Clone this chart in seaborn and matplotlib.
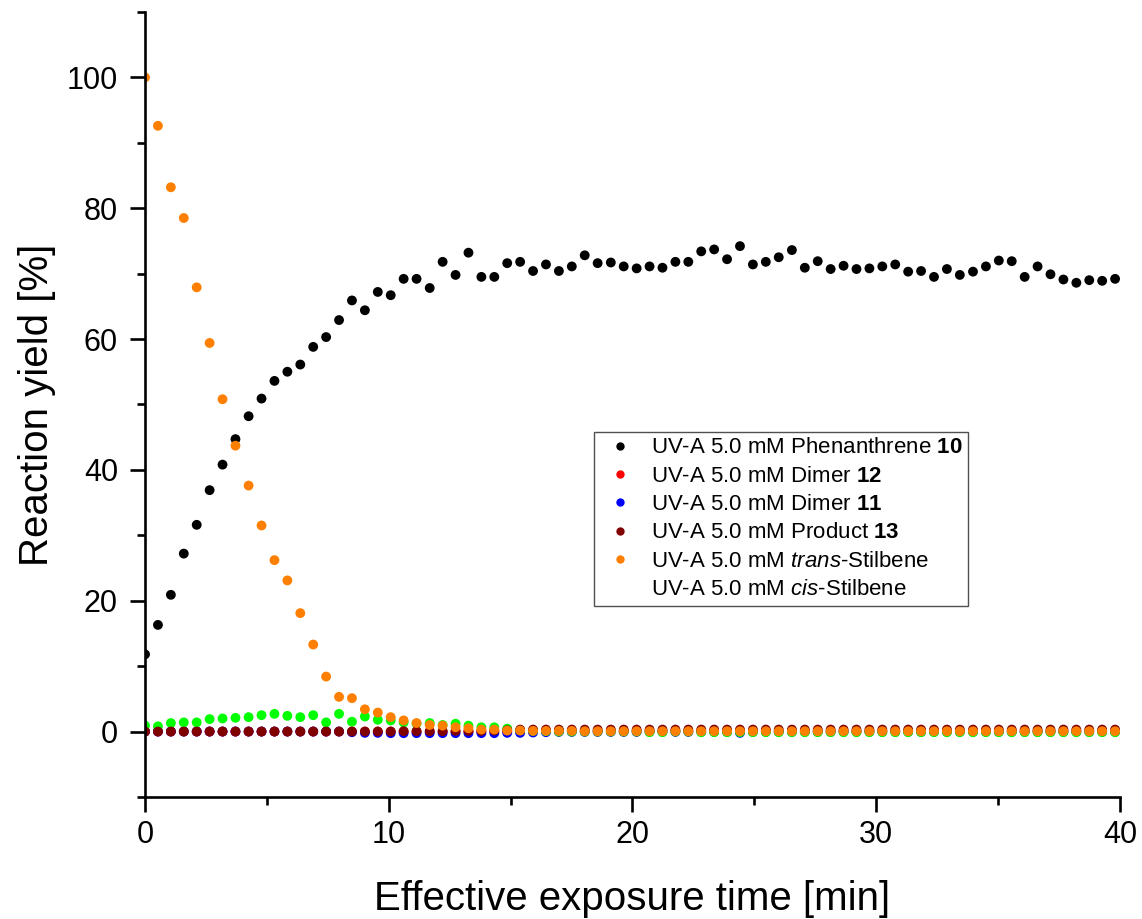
import numpy as np
import pandas as pd
import matplotlib
matplotlib.use("Agg")
import matplotlib.pyplot as plt
from matplotlib.lines import Line2D
from matplotlib.ticker import MultipleLocator
import seaborn as sns

# Effective exposure time [min]
time = [0.00, 0.53, 1.06, 1.59, 2.12, 2.65, 3.18, 3.71, 4.25, 4.78,
        5.31, 5.84, 6.37, 6.90, 7.43, 7.96, 8.49, 9.02, 9.55, 10.08,
        10.61, 11.14, 11.68, 12.21, 12.74, 13.27, 13.80, 14.33, 14.86, 15.39,
        15.92, 16.45, 16.98, 17.51, 18.04, 18.57, 19.11, 19.64, 20.17, 20.70,
        21.23, 21.76, 22.29, 22.82, 23.35, 23.88, 24.41, 24.94, 25.47, 26.00,
        26.54, 27.07, 27.60, 28.13, 28.66, 29.19, 29.72, 30.25, 30.78, 31.31,
        31.84, 32.37, 32.90, 33.43, 33.97, 34.50, 35.03, 35.56, 36.09, 36.62,
        37.15, 37.68, 38.21, 38.74, 39.27, 39.80]

# Reaction yields [%]
phenanthrene_10 = [11.8, 16.3, 20.9, 27.2, 31.6, 36.9, 40.8, 44.7, 48.2, 50.9,
                   53.6, 55.0, 56.1, 58.8, 60.3, 62.9, 65.9, 64.4, 67.2, 66.7,
                   69.2, 69.2, 67.8, 71.8, 69.8, 73.2, 69.5, 69.5, 71.6, 71.8,
                   70.4, 71.4, 70.4, 71.1, 72.8, 71.6, 71.7, 71.1, 70.8, 71.1,
                   70.9, 71.8, 71.8, 73.4, 73.7, 72.2, 74.2, 71.4, 71.8, 72.5,
                   73.6, 70.9, 71.9, 70.7, 71.2, 70.7, 70.8, 71.1, 71.4, 70.3,
                   70.4, 69.5, 70.7, 69.8, 70.3, 71.1, 72.0, 71.9, 69.5, 71.1,
                   69.9, 69.1, 68.6, 69.0, 68.9, 69.2]

dimer_12 = [0.0, 0.0, 0.0, 0.0, 0.0, 0.0, 0.0, 0.0, 0.0, 0.0,
            0.0, 0.0, 0.0, 0.0, 0.0, 0.0, 0.0, 0.0, 0.0, 0.0,
            0.0, 0.0, 0.0, 0.0, 0.0, 0.0, 0.0, 0.0, 0.0, 0.0,
            0.0, 0.0, 0.0, 0.0, 0.0, 0.0, 0.0, 0.0, 0.0, 0.0,
            0.0, 0.0, 0.0, 0.0, 0.0, 0.0, 0.0, 0.0, 0.0, 0.0,
            0.0, 0.0, 0.0, 0.0, 0.0, 0.0, 0.0, 0.0, 0.0, 0.0,
            0.0, 0.0, 0.0, 0.0, 0.0, 0.0, 0.0, 0.0, 0.0, 0.0,
            0.0, 0.0, 0.0, 0.0, 0.0, 0.0]

dimer_11 = [0.0, 0.0, 0.0, 0.0, 0.0, 0.0, 0.0, 0.0, 0.0, 0.0,
            0.0, 0.0, 0.0, 0.0, 0.0, 0.0, -0.1, -0.2, -0.2, -0.25,
            -0.25, -0.25, -0.25, -0.25, -0.25, -0.25, -0.25, -0.25, -0.2, -0.2,
            -0.15, -0.1, -0.05, -0.05, -0.05, -0.05, -0.05, -0.05, -0.05, -0.05,
            -0.05, -0.05, -0.05, -0.05, -0.05, -0.05, -0.2, -0.05, -0.05, -0.05,
            -0.05, -0.05, -0.05, -0.05, -0.05, -0.05, -0.05, -0.05, -0.05, -0.05,
            -0.05, -0.05, -0.05, -0.05, -0.05, -0.05, -0.05, -0.05, -0.05, -0.05,
            -0.05, -0.05, -0.05, -0.05, -0.05, -0.05]

product_13 = [0.0, 0.0, 0.0, 0.0, 0.0, 0.0, 0.0, 0.0, 0.0, 0.0,
              0.0, 0.0, 0.0, 0.0, 0.0, 0.0, 0.0, 0.0, 0.0, 0.0,
              0.05, 0.05, 0.05, 0.05, 0.1, 0.1, 0.1, 0.15, 0.2, 0.3,
              0.3, 0.3, 0.3, 0.3, 0.3, 0.3, 0.3, 0.3, 0.3, 0.3,
              0.3, 0.3, 0.3, 0.3, 0.3, 0.3, 0.3, 0.3, 0.3, 0.3,
              0.3, 0.3, 0.3, 0.3, 0.3, 0.3, 0.3, 0.3, 0.3, 0.3,
              0.3, 0.3, 0.3, 0.3, 0.3, 0.3, 0.3, 0.3, 0.3, 0.3,
              0.3, 0.3, 0.3, 0.3, 0.3, 0.3]

trans_stilbene = [100.0, 92.6, 83.2, 78.5, 67.9, 59.4, 50.8, 43.7, 37.6, 31.5,
                  26.2, 23.1, 18.1, 13.3, 8.4, 5.3, 5.1, 3.4, 2.9, 2.2,
                  1.7, 1.3, 1.0, 0.9, 0.65, 0.5, 0.3, 0.3, 0.15, 0.15,
                  0.1, 0.1, 0.1, 0.1, 0.05, 0.05, 0.05, 0.05, 0.05, 0.05,
                  0.05, 0.05, 0.05, 0.05, 0.05, 0.05, 0.05, 0.05, 0.05, 0.05,
                  0.05, 0.05, 0.05, 0.05, 0.05, 0.05, 0.05, 0.05, 0.05, 0.05,
                  0.05, 0.05, 0.05, 0.05, 0.05, 0.05, 0.05, 0.05, 0.05, 0.05,
                  0.05, 0.05, 0.05, 0.05, 0.05, 0.05]

cis_stilbene = [0.9, 0.8, 1.3, 1.4, 1.4, 1.9, 2.0, 2.1, 2.2, 2.5,
                2.7, 2.4, 2.2, 2.5, 1.4, 2.7, 1.5, 2.3, 1.8, 1.7,
                1.4, 1.2, 1.3, 1.0, 1.2, 0.9, 0.65, 0.65, 0.45, 0.2,
                0.1, 0.05, 0.0, 0.0, 0.0, 0.0, 0.0, 0.0, 0.0, -0.1,
                -0.1, 0.0, 0.0, -0.1, -0.1, -0.1, -0.1, -0.1, -0.1, -0.1,
                -0.1, -0.1, -0.1, -0.1, -0.1, -0.1, -0.1, -0.1, -0.1, -0.1,
                -0.1, -0.1, -0.1, -0.1, -0.1, -0.1, -0.1, -0.1, -0.1, -0.1,
                -0.1, -0.1, -0.1, -0.1, -0.1, -0.1]

series_labels = [
    r"UV-A 5.0 mM Phenanthrene $\mathbf{10}$",
    r"UV-A 5.0 mM Dimer $\mathbf{12}$",
    r"UV-A 5.0 mM Dimer $\mathbf{11}$",
    r"UV-A 5.0 mM Product $\mathbf{13}$",
    r"UV-A 5.0 mM $\mathit{trans}$-Stilbene",
    r"UV-A 5.0 mM $\mathit{cis}$-Stilbene",
]
series_values = [phenanthrene_10, dimer_12, dimer_11, product_13,
                 trans_stilbene, cis_stilbene]
series_colors = ["#000000", "#FF0000", "#0000FF", "#800000", "#FF8000", "#00FF00"]

# drawing order (later rows are painted on top)
draw_order = [0, 1, 2, 5, 3, 4]

frames = []
for k in draw_order:
    frames.append(pd.DataFrame({"time": time,
                                "yield": series_values[k],
                                "series": series_labels[k]}))
df = pd.concat(frames, ignore_index=True)

sns.set_theme(style="ticks")
plt.rcParams["font.family"] = ["Liberation Sans", "DejaVu Sans"]
plt.rcParams["mathtext.fontset"] = "custom"
plt.rcParams["mathtext.rm"] = "Liberation Sans"
plt.rcParams["mathtext.it"] = "Liberation Sans:italic"
plt.rcParams["mathtext.bf"] = "Liberation Sans:bold"
plt.rcParams["text.color"] = "black"
plt.rcParams["axes.labelcolor"] = "black"

fig = plt.figure(figsize=(11.42, 9.19), dpi=100)
ax = fig.add_axes([0.127, 0.1328, 0.8537, 0.8542])

palette = dict(zip(series_labels, series_colors))
sns.scatterplot(data=df, x="time", y="yield", hue="series", palette=palette,
                s=50, linewidth=0, alpha=1.0, legend=False, ax=ax)

ax.set_xlim(0, 40)
ax.set_ylim(-10, 110)
ax.xaxis.set_major_locator(MultipleLocator(10))
ax.xaxis.set_minor_locator(MultipleLocator(5))
ax.yaxis.set_minor_locator(MultipleLocator(10))
ax.set_yticks([0, 20, 40, 60, 80, 100])

for side in ["top", "right"]:
    ax.spines[side].set_visible(False)
for side in ["left", "bottom"]:
    ax.spines[side].set_linewidth(1.9)
    ax.spines[side].set_color("black")

ax.tick_params(which="major", direction="out", length=10.5, width=1.9,
               labelsize=22, colors="black")
ax.tick_params(which="minor", direction="out", length=5.5, width=1.9,
               colors="black")
ax.tick_params(axis="x", which="major", pad=6)
ax.tick_params(axis="y", which="major", pad=9)

ax.set_xlabel("Effective exposure time [min]", fontsize=29, labelpad=22)
ax.set_ylabel("Reaction yield [%]", fontsize=29, labelpad=8)

handles = []
for k, (lab, col) in enumerate(zip(series_labels, series_colors)):
    if k == len(series_labels) - 1:
        handles.append(Line2D([], [], linestyle="none", marker="o",
                              markersize=6, color="none", label=lab))
    else:
        handles.append(Line2D([], [], linestyle="none", marker="o",
                              markersize=6, markeredgewidth=0,
                              color=col, label=lab))
leg = ax.legend(handles=handles, loc="upper left",
                bbox_to_anchor=(0.4605, 0.465), borderaxespad=0,
                fontsize=16, frameon=True, fancybox=False,
                edgecolor="#505050", framealpha=1.0,
                labelspacing=0.33, handletextpad=0.5, handlelength=1.8,
                borderpad=0.25)
leg.get_frame().set_linewidth(1.0)

fig.savefig("out.png", dpi=100)
